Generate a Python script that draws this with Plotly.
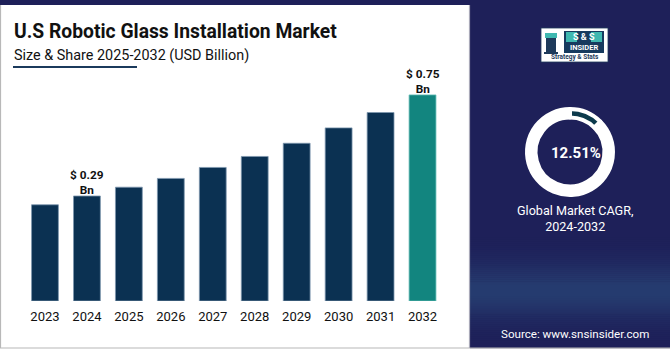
import math
import plotly.graph_objects as go

# ---------------- data ----------------
years = ["2023", "2024", "2025", "2026", "2027", "2028", "2029", "2030", "2031", "2032"]
values = [0.25, 0.29, 0.33, 0.37, 0.42, 0.47, 0.53, 0.60, 0.67, 0.75]
labeled_years = ["2024", "2032"]
label_amounts = ["$ 0.29", "$ 0.75"]
label_units = ["Bn", "Bn"]
cagr_value = 12.51
cagr_text = "12.51%"
cagr_caption_lines = ["Global Market CAGR,", "2024-2032"]

title_text = "U.S Robotic Glass Installation Market"
subtitle_text = "Size & Share 2025-2032 (USD Billion)"
source_text = "Source: www.snsinsider.com"

# ---------------- styling ----------------
W, H = 670, 350
NAVY = "#1E2059"
BAR = "#0B3152"
TEAL = "#12857F"
AXIS_MIN = -0.188
AXIS_MAX = 0.909

def px(x):
    return x / W

def py(y):
    return 1 - y / H

bar_colors = [TEAL if y == "2032" else BAR for y in years]
line_colors = ["#63BDB6" if y == "2032" else "#7E97AE" for y in years]

fig = go.Figure()

fig.add_trace(go.Bar(
    x=years,
    y=[v - AXIS_MIN for v in values],
    base=AXIS_MIN,
    width=0.64,
    marker=dict(color=bar_colors, line=dict(color=line_colors, width=0.8)),
    hoverinfo="skip",
    showlegend=False,
))

fig.add_trace(go.Pie(
    values=[cagr_value, 100 - cagr_value],
    marker=dict(colors=["#0C3A4C", "#FFFFFF"], line=dict(color="#FFFFFF", width=4)),
    hole=0.8,
    sort=False,
    direction="clockwise",
    rotation=0,
    textinfo="none",
    hoverinfo="skip",
    showlegend=False,
    domain=dict(x=[px(527), px(613)], y=[py(196), py(108)]),
))

shapes = []
# right panel
shapes.append(dict(type="rect", xref="paper", yref="paper", x0=px(469.5), x1=1, y0=py(348), y1=1,
                   fillcolor=NAVY, line=dict(width=0), layer="below"))
# gradient band near bottom of panel
n = 60
for i in range(n):
    y0 = 230 + i * (118 / n)
    y1 = y0 + 118 / n + 0.3
    k = math.exp(-((y0 - 290) / 28) ** 2)
    r = int(30 + (38 - 30) * k)
    g = int(32 + (60 - 32) * k)
    b = int(89 + (112 - 89) * k)
    shapes.append(dict(type="rect", xref="paper", yref="paper", x0=px(470), x1=1,
                       y0=py(y1), y1=py(y0), fillcolor=f"rgb({r},{g},{b})",
                       line=dict(width=0), layer="below"))
# top strip
shapes.append(dict(type="rect", xref="paper", yref="paper", x0=0, x1=1, y0=py(5), y1=1,
                   fillcolor=NAVY, line=dict(width=0), layer="below"))
# gray borders
shapes.append(dict(type="line", xref="paper", yref="paper", x0=px(0.5), x1=px(0.5), y0=py(348), y1=py(5),
                   line=dict(color="#B8B8B8", width=1.2)))
shapes.append(dict(type="line", xref="paper", yref="paper", x0=0, x1=1, y0=py(348), y1=py(348),
                   line=dict(color="#B8B8B8", width=1.2)))
shapes.append(dict(type="line", xref="paper", yref="paper", x0=px(469.5), x1=px(469.5), y0=py(348), y1=py(5),
                   line=dict(color="#A9A9B8", width=1.2)))
# subtitle underline
shapes.append(dict(type="line", xref="paper", yref="paper", x0=px(13), x1=px(137), y0=py(67), y1=py(67),
                   line=dict(color="#1B3A5C", width=2)))
# logo box
shapes.append(dict(type="rect", xref="paper", yref="paper", x0=px(541), x1=px(608), y0=py(62), y1=py(28),
                   fillcolor="#FFFFFF", line=dict(color="#1E3A5A", width=0.8)))
shapes.append(dict(type="rect", xref="paper", yref="paper", x0=px(564), x1=px(604), y0=py(53), y1=py(31),
                   fillcolor="#173A5E", line=dict(width=0)))
shapes.append(dict(type="rect", xref="paper", yref="paper", x0=px(566), x1=px(577), y0=py(42), y1=py(32),
                   fillcolor="#3FB8B0", line=dict(width=0)))
shapes.append(dict(type="rect", xref="paper", yref="paper", x0=px(591), x1=px(602), y0=py(42), y1=py(32),
                   fillcolor="#3FB8B0", line=dict(width=0)))
# rook icon
shapes.append(dict(type="rect", xref="paper", yref="paper", x0=px(546), x1=px(556), y0=py(52), y1=py(36),
                   fillcolor="#1E3A5A", line=dict(width=0)))
shapes.append(dict(type="rect", xref="paper", yref="paper", x0=px(544), x1=px(558), y0=py(54), y1=py(52),
                   fillcolor="#1E3A5A", line=dict(width=0)))
shapes.append(dict(type="rect", xref="paper", yref="paper", x0=px(545), x1=px(557), y0=py(38), y1=py(33),
                   fillcolor="#3FB8B0", line=dict(width=0)))

annotations = []
FONT = "Roboto"
annotations.append(dict(xref="paper", yref="paper", x=px(12), y=py(32), text=f"<b>{title_text}</b>",
                        showarrow=False, xanchor="left", yanchor="middle",
                        font=dict(family=FONT, size=19.3, color="#111111")))
annotations.append(dict(xref="paper", yref="paper", x=px(12), y=py(55), text=subtitle_text,
                        showarrow=False, xanchor="left", yanchor="middle",
                        font=dict(family=FONT, size=14.4, color="#111111")))
for yr, amt, unit in zip(labeled_years, label_amounts, label_units):
    idx = years.index(yr)
    annotations.append(dict(x=idx, y=values[idx], xref="x", yref="y", text=f"<b>{amt}<br>{unit}</b>",
                            showarrow=False, xanchor="center", yanchor="middle", yshift=13.5,
                            font=dict(family=FONT, size=11.8, color="#111111")))
annotations.append(dict(xref="paper", yref="paper", x=px(576), y=py(153), text=f"<b>{cagr_text}</b>",
                        showarrow=False, xanchor="center", yanchor="middle",
                        font=dict(family=FONT, size=15, color="#FFFFFF")))
annotations.append(dict(xref="paper", yref="paper", x=px(575), y=py(218.5), text="<br>".join(cagr_caption_lines),
                        showarrow=False, xanchor="center", yanchor="middle",
                        font=dict(family=FONT, size=12.6, color="#FFFFFF")))
annotations.append(dict(xref="paper", yref="paper", x=px(575), y=py(334), text=source_text,
                        showarrow=False, xanchor="center", yanchor="middle",
                        font=dict(family=FONT, size=11.6, color="#FFFFFF")))
# logo text
annotations.append(dict(xref="paper", yref="paper", x=px(584), y=py(37.5), text="<b>S &amp; S</b>",
                        showarrow=False, xanchor="center", yanchor="middle",
                        font=dict(family=FONT, size=9, color="#FFFFFF")))
annotations.append(dict(xref="paper", yref="paper", x=px(584), y=py(48), text="<b>INSIDER</b>",
                        showarrow=False, xanchor="center", yanchor="middle",
                        font=dict(family=FONT, size=7.5, color="#FFFFFF")))
annotations.append(dict(xref="paper", yref="paper", x=px(574.5), y=py(57.5), text="<b>Strategy &amp; Stats</b>",
                        showarrow=False, xanchor="center", yanchor="middle",
                        font=dict(family=FONT, size=6.5, color="#1E3A5A")))

fig.update_layout(
    width=W, height=H,
    margin=dict(l=0, r=0, t=0, b=0),
    paper_bgcolor="#FFFFFF",
    plot_bgcolor="rgba(0,0,0,0)",
    shapes=shapes,
    annotations=annotations,
    xaxis=dict(domain=[px(24), px(443.5)], range=[-0.5, 9.5], type="category",
               showgrid=False, zeroline=False, showline=False, ticks="",
               tickfont=dict(family=FONT, size=13, color="#111111"), ticklabelstandoff=6,
               fixedrange=True),
    yaxis=dict(domain=[py(301), py(60)], range=[AXIS_MIN, AXIS_MAX], visible=False,
               showgrid=False, zeroline=False, fixedrange=True),
    bargap=0.36,
)

fig.write_html("out.html", config={"displayModeBar": False})
